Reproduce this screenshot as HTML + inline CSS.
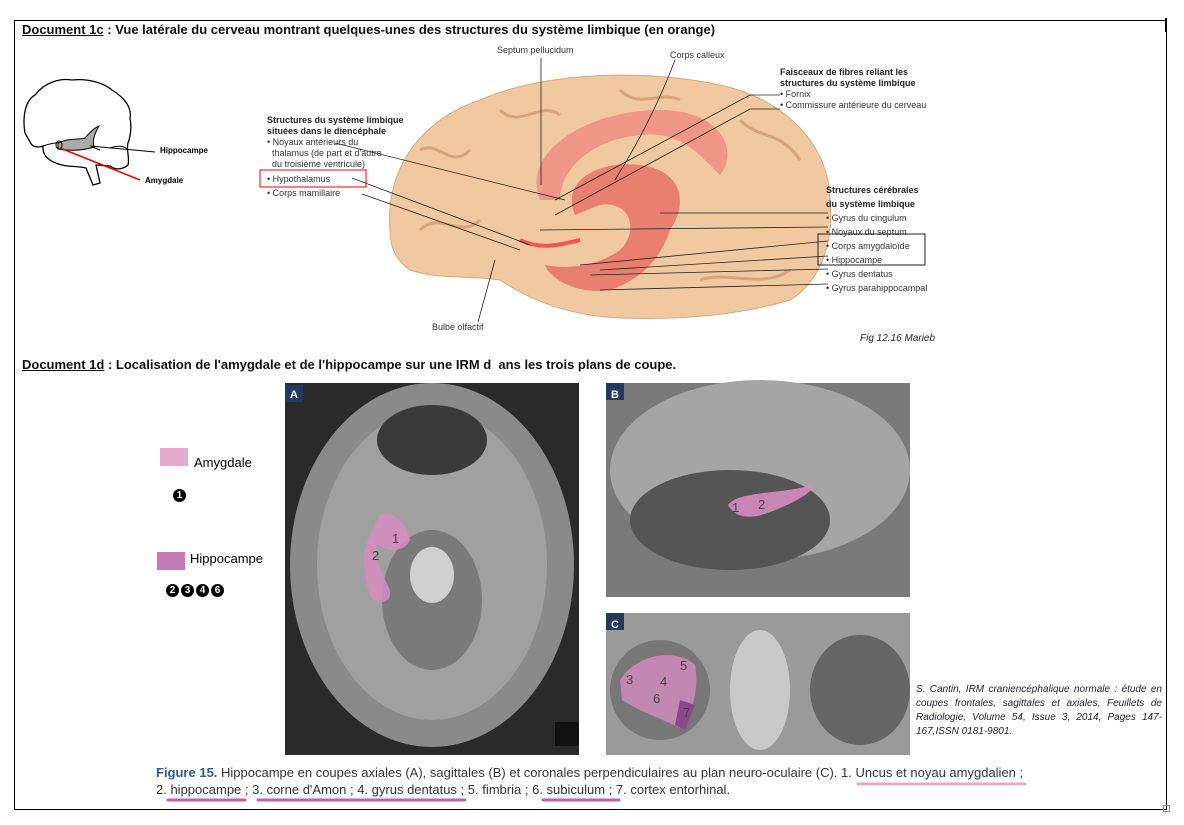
<!DOCTYPE html>
<html><head><meta charset="utf-8"><style>
body{margin:0;width:1184px;height:825px;background:#fff;position:relative;overflow:hidden;font-family:"Liberation Sans",sans-serif}
.a{position:absolute;white-space:nowrap}
.t{font-size:9px;color:#333;line-height:11px}
.b{font-weight:bold;color:#222}
.h{font-family:"Liberation Sans",sans-serif;font-size:13px;font-weight:bold;color:#111}
.c{font-size:12.5px;color:#333;font-family:"Liberation Sans Narrow","Liberation Sans",sans-serif}
.n{display:inline-block;width:13px;height:13px;border-radius:50%;background:#000;color:#fff;font-size:10px;font-weight:bold;text-align:center;line-height:13px;margin-right:2px}
</style></head><body>
<div class="a" style="left:14px;top:20px;width:1151px;height:788px;border:1px solid #000"></div>
<div class="a" style="left:1165px;top:18px;width:2px;height:14px;background:#000"></div>
<div class="a h" style="left:22px;top:22px"><u>Document 1c</u> : Vue latérale du cerveau montrant quelques-unes des structures du système limbique (en orange)</div>

<svg class="a" style="left:0;top:0" width="1184" height="825">
 <!-- small brain sketch -->
 <path d="M25,133 C22,115 26,100 35,95 C45,82 60,78 72,80 C90,78 105,84 112,90 C125,98 132,108 130,118 C132,128 130,138 128,143 C126,150 130,158 128,165 C122,170 115,170 110,166 C105,166 100,165 96,165 L100,183 L93,185 L86,168 C78,166 70,167 62,165 C50,162 42,156 43,146 C38,148 32,147 30,142 Z" fill="none" stroke="#000" stroke-width="1.3"/>
 <path d="M43,146 C60,140 80,142 100,150 M110,148 C118,145 125,146 128,150" fill="none" stroke="#000" stroke-width="1"/>
 <path d="M58,143 C68,138 78,140 85,138 C90,132 94,128 99,126 C95,133 92,140 94,147 C82,151 70,151 58,149 Z" fill="#aaa" stroke="#000"/>
 <ellipse cx="59" cy="145" rx="3" ry="4" fill="none" stroke="#000"/>
 <line x1="90" y1="146" x2="155" y2="152" stroke="#000"/>
 <line x1="60" y1="148" x2="140" y2="180" stroke="#e00" stroke-width="1.5"/>
 <!-- big brain -->
 <path d="M390,230 C385,170 420,120 480,100 C550,70 650,70 720,85 C790,100 830,150 830,200 C835,250 815,285 790,300 C740,315 680,320 620,318 C570,316 530,300 500,280 C470,275 440,280 410,270 C395,260 390,245 390,230 Z" fill="#f0c9a0" stroke="#d9a77a"/>
 <path d="M420,150 C440,140 450,170 470,150 M500,110 C520,130 540,100 560,115 M620,90 C640,110 660,90 680,100 M740,120 C760,140 780,130 800,160 M420,230 C440,210 460,240 480,220 M700,280 C730,270 760,290 790,270" stroke="#d8a27a" stroke-width="3" fill="none"/>
 <path d="M540,200 C520,150 590,110 660,110 C720,110 740,150 720,175 C700,155 680,130 640,135 C590,140 560,170 560,200 Z" fill="#ef8a80" opacity=".8"/>
 <path d="M575,215 C560,180 600,160 640,165 C680,170 690,200 670,230 C660,260 640,280 610,290 C580,295 550,280 545,265 C570,270 600,265 620,250 C640,230 630,200 600,205 Z" fill="#e7665d" opacity=".75"/>
 <path d="M520,240 C540,250 560,245 580,240" stroke="#e55" stroke-width="4" fill="none"/>
 <g stroke="#222" stroke-width=".8" fill="none">
  <line x1="541" y1="58" x2="541" y2="185"/>
  <path d="M675,60 C660,100 640,140 615,180"/>
  <path d="M780,95 L750,95 L555,200"/>
  <path d="M780,109 L750,109 L555,215"/>
  <path d="M335,143 L565,200"/><path d="M352,178 L530,245"/><path d="M362,194 L520,250"/>
  <path d="M828,213 L660,213"/><path d="M828,227 L540,230"/><path d="M828,241 L580,265"/>
  <path d="M828,256 L600,270"/><path d="M828,269 L590,275"/><path d="M828,284 L600,290"/>
  <path d="M478,322 L495,260"/>
 </g>
 <rect x="260" y="170" width="106" height="17" fill="none" stroke="#e00"/>
 <rect x="818" y="234" width="107" height="31" fill="none" stroke="#222"/>
 <!-- MRI panels -->
 <rect x="285" y="383" width="294" height="372" fill="#2a2a2a"/>
 <ellipse cx="432" cy="565" rx="142" ry="182" fill="#8a8a8a"/>
 <ellipse cx="432" cy="565" rx="115" ry="155" fill="#a0a0a0"/>
 <ellipse cx="432" cy="600" rx="50" ry="70" fill="#7a7a7a"/>
 <ellipse cx="432" cy="440" rx="55" ry="35" fill="#3a3a3a"/>
 <ellipse cx="432" cy="575" rx="22" ry="28" fill="#cfcfcf"/>
 <path d="M380,515 C395,510 408,525 410,540 C405,552 390,552 378,545 C372,550 380,570 390,590 C392,602 380,606 372,598 C362,580 362,550 370,535 Z" fill="#d68cc0" opacity=".85"/>
 <rect x="555" y="722" width="24" height="24" fill="#111"/>
 <rect x="285" y="385" width="18" height="17" fill="#233a5e"/>
 <rect x="606" y="383" width="304" height="214" fill="#7a7a7a"/>
 <ellipse cx="760" cy="470" rx="150" ry="90" fill="#a5a5a5"/>
 <ellipse cx="730" cy="520" rx="100" ry="50" fill="#555"/>
 <path d="M728,505 C740,490 780,495 812,485 C818,490 790,505 770,512 C750,520 735,518 728,505 Z" fill="#d68cc0" opacity=".9"/>
 <rect x="606" y="383" width="18" height="17" fill="#233a5e"/>
 <rect x="606" y="613" width="304" height="142" fill="#9a9a9a"/>
 <ellipse cx="660" cy="690" rx="50" ry="50" fill="#777"/>
 <ellipse cx="860" cy="690" rx="50" ry="55" fill="#666"/>
 <ellipse cx="760" cy="690" rx="30" ry="60" fill="#c9c9c9"/>
 <path d="M620,680 C640,650 680,650 695,665 C700,690 690,720 680,728 C665,720 640,712 622,700 Z" fill="#d68cc0" opacity=".8"/>
 <path d="M680,700 L695,705 L685,730 L675,725 Z" fill="#8a4a8a"/>
 <rect x="606" y="613" width="18" height="17" fill="#233a5e"/>
 <g fill="#fff" font-size="13" font-family="Liberation Sans"><text x="290" y="398" font-size="11" font-weight="bold">A</text><text x="611" y="398" font-size="11" font-weight="bold">B</text><text x="611" y="628" font-size="11" font-weight="bold">C</text></g>
 <g fill="#444" font-size="13" font-family="Liberation Sans"><text x="392" y="543">1</text><text x="372" y="560">2</text><text x="732" y="512">1</text><text x="758" y="509">2</text>
 <text x="626" y="684">3</text><text x="660" y="686">4</text><text x="680" y="670">5</text><text x="653" y="703">6</text><text x="683" y="717">7</text></g>
 <!-- underlines -->
 <g stroke-width="3" stroke-linecap="round">
  <line x1="858" y1="784" x2="1025" y2="784" stroke="#e4a9cc"/>
  <line x1="168" y1="800" x2="245" y2="800" stroke="#b767a4"/>
  <line x1="258" y1="800" x2="465" y2="800" stroke="#b767a4"/>
  <line x1="543" y1="800" x2="619" y2="800" stroke="#b767a4"/>
 </g>
</svg>

<div class="a" style="left:160px;top:146px;font-size:8px;font-weight:bold">Hippocampe</div>
<div class="a" style="left:145px;top:176px;font-size:8px;font-weight:bold">Amygdale</div>
<div class="a t" style="left:497px;top:45px">Septum pellucidum</div>
<div class="a t" style="left:670px;top:50px">Corps calleux</div>
<div class="a t" style="left:780px;top:67px"><span class="b">Faisceaux de fibres reliant les<br>structures du système limbique</span><br>• Fornix<br>• Commissure antérieure du cerveau</div>
<div class="a t" style="left:267px;top:115px"><span class="b">Structures du système limbique<br>situées dans le diencéphale</span><br>• Noyaux antérieurs du<br>&nbsp;&nbsp;thalamus (de part et d'autre<br>&nbsp;&nbsp;du troisième ventricule)</div>
<div class="a t" style="left:267px;top:174px">• Hypothalamus</div>
<div class="a t" style="left:267px;top:188px">• Corps mamillaire</div>
<div class="a t" style="left:826px;top:183px;line-height:14px"><span class="b" style="line-height:11px">Structures cérébrales<br>du système limbique</span><br>• Gyrus du cingulum<br>• Noyaux du septum<br>• Corps amygdaloïde<br>• Hippocampe<br>• Gyrus dentatus<br>• Gyrus parahippocampal</div>
<div class="a t" style="left:432px;top:322px">Bulbe olfactif</div>
<div class="a" style="left:860px;top:333px;font-size:10px;font-style:italic;color:#223">Fig 12.16 Marieb</div>
<div class="a h" style="left:22px;top:357px"><u>Document 1d</u> : Localisation de l'amygdale et de l'hippocampe sur une IRM d&nbsp; ans les trois plans de coupe.</div>

<div class="a" style="left:160px;top:448px;width:28px;height:18px;background:#e4aacd"></div>
<div class="a" style="left:194px;top:455px;font-size:13px">Amygdale</div>
<div class="a" style="left:173px;top:485px"><span class="n">1</span></div>
<div class="a" style="left:157px;top:552px;width:28px;height:18px;background:#c47ab3"></div>
<div class="a" style="left:190px;top:551px;font-size:13px">Hippocampe</div>
<div class="a" style="left:166px;top:580px"><span class="n">2</span><span class="n">3</span><span class="n">4</span><span class="n">6</span></div>

<div class="a" style="left:916px;top:683px;width:246px;font-size:10px;font-style:italic;color:#223;line-height:14px;text-align:justify;white-space:normal">S. Cantin, IRM craniencéphalique normale : étude en coupes frontales, sagittales et axiales, Feuillets de Radiologie, Volume 54, Issue 3, 2014, Pages 147-167,ISSN 0181-9801.</div>

<div class="a c" style="left:156px;top:765px;font-size:13px"><b style="color:#2d5a8c">Figure 15.</b> Hippocampe en coupes axiales (A), sagittales (B) et coronales perpendiculaires au plan neuro-oculaire (C). 1. Uncus et noyau amygdalien ;</div>
<div class="a c" style="left:156px;top:782px;font-size:13px">2. hippocampe ; 3. corne d'Amon ; 4. gyrus dentatus ; 5. fimbria ; 6. subiculum ; 7. cortex entorhinal.</div>
<div class="a" style="left:1163px;top:805px;width:5px;height:5px;border:1px solid #888"></div>
</body></html>
